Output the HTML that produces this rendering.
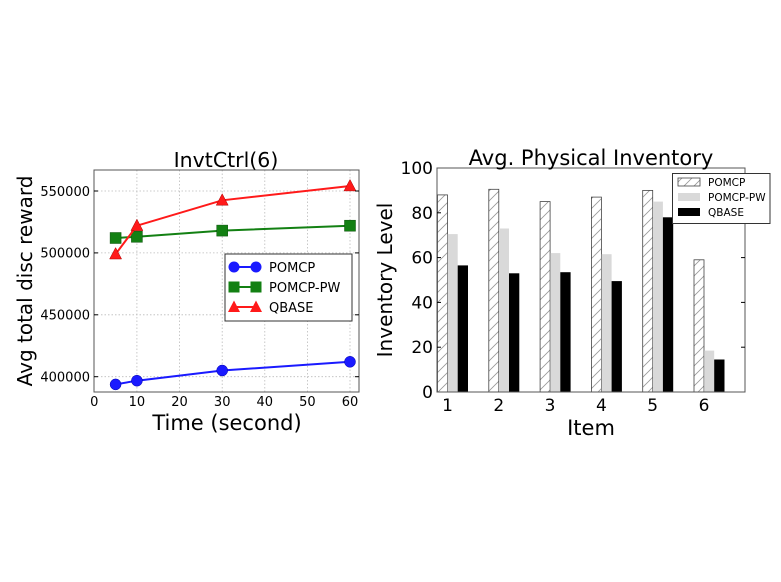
<!DOCTYPE html>
<html><head><style>body{margin:0;background:#fff}svg{display:block}text{font-family:"DejaVu Sans","Liberation Sans",sans-serif;fill:#000}</style></head>
<body>
<svg width="781" height="582" viewBox="0 0 781 582" xmlns="http://www.w3.org/2000/svg">
<defs>
<pattern id="h" width="10" height="10" patternUnits="userSpaceOnUse">
<path d="M-1,11 L11,-1 M-1,1 L1,-1 M9,11 L11,9" stroke="#999" stroke-width="0.8"/>
</pattern>
</defs>
<rect width="781" height="582" fill="#fff"/>
<!-- Left chart -->
<g stroke="#bbb" stroke-width="0.8" stroke-dasharray="1.5,2">
<line x1="136.9" y1="170" x2="136.9" y2="392"/><line x1="179.5" y1="170" x2="179.5" y2="392"/>
<line x1="222.2" y1="170" x2="222.2" y2="392"/><line x1="264.8" y1="170" x2="264.8" y2="392"/>
<line x1="307.4" y1="170" x2="307.4" y2="392"/><line x1="350" y1="170" x2="350" y2="392"/>
<line x1="94" y1="376.7" x2="359" y2="376.7"/><line x1="94" y1="314.8" x2="359" y2="314.8"/>
<line x1="94" y1="252.9" x2="359" y2="252.9"/><line x1="94" y1="191" x2="359" y2="191"/>
</g>
<rect x="94" y="170" width="265" height="222" fill="none" stroke="#555" stroke-width="1"/>
<polyline points="115.6,384.4 136.9,380.7 222.2,370.5 350,361.8" fill="none" stroke="#1a1aff" stroke-width="2"/>
<g fill="#1a1aff" stroke="#0000aa" stroke-width="0.5"><circle cx="115.6" cy="384.4" r="5.5"/><circle cx="136.9" cy="380.7" r="5.5"/><circle cx="222.2" cy="370.5" r="5.5"/><circle cx="350" cy="361.8" r="5.5"/></g>
<polyline points="115.6,238 136.9,236.8 222.2,230.6 350,225.7" fill="none" stroke="#138013" stroke-width="2"/>
<g fill="#138013" stroke="#0a500a" stroke-width="0.5"><rect x="110.1" y="232.5" width="11" height="11"/><rect x="131.4" y="231.3" width="11" height="11"/><rect x="216.7" y="225.1" width="11" height="11"/><rect x="344.5" y="220.2" width="11" height="11"/></g>
<polyline points="115.6,254.1 136.9,225.7 222.2,200.3 350,186" fill="none" stroke="#ff1a1a" stroke-width="2"/>
<g fill="#ff1a1a" stroke="#aa0000" stroke-width="0.5">
<polygon points="115.6,247.6 121.6,259 109.6,259"/><polygon points="136.9,219.2 142.9,230.6 130.9,230.6"/><polygon points="222.2,193.8 228.2,205.2 216.2,205.2"/><polygon points="350,179.5 356,190.9 344,190.9"/></g>
<g stroke="#000" stroke-width="1">
<line x1="94" y1="376.7" x2="98" y2="376.7"/><line x1="94" y1="314.8" x2="98" y2="314.8"/><line x1="94" y1="252.9" x2="98" y2="252.9"/><line x1="94" y1="191" x2="98" y2="191"/>
<line x1="355" y1="376.7" x2="359" y2="376.7"/><line x1="355" y1="314.8" x2="359" y2="314.8"/><line x1="355" y1="252.9" x2="359" y2="252.9"/><line x1="355" y1="191" x2="359" y2="191"/>
</g>
<g font-size="13" text-anchor="end">
<text x="90" y="381.5">400000</text><text x="90" y="319.6">450000</text><text x="90" y="257.7">500000</text><text x="90" y="195.8">550000</text></g>
<g font-size="13" text-anchor="middle">
<text x="94.3" y="406">0</text><text x="136.9" y="406">10</text><text x="179.5" y="406">20</text><text x="222.2" y="406">30</text><text x="264.8" y="406">40</text><text x="307.4" y="406">50</text><text x="350" y="406">60</text></g>
<text x="227" y="430" font-size="21" text-anchor="middle">Time (second)</text>
<text x="226" y="167" font-size="20.5" text-anchor="middle">InvtCtrl(6)</text>
<text transform="translate(32,281) rotate(-90)" font-size="20" text-anchor="middle">Avg total disc reward</text>
<rect x="225" y="254" width="127" height="67" fill="#fff" stroke="#333" stroke-width="1"/>
<line x1="234" y1="267" x2="256" y2="267" stroke="#1a1aff" stroke-width="2"/><circle cx="234" cy="267" r="5.5" fill="#1a1aff"/><circle cx="256" cy="267" r="5.5" fill="#1a1aff"/>
<line x1="234" y1="287" x2="256" y2="287" stroke="#138013" stroke-width="2"/><rect x="228.5" y="281.5" width="11" height="11" fill="#138013"/><rect x="250.5" y="281.5" width="11" height="11" fill="#138013"/>
<line x1="234" y1="307" x2="256" y2="307" stroke="#ff1a1a" stroke-width="2"/><polygon points="234,300.5 240,312 228,312" fill="#ff1a1a"/><polygon points="256,300.5 262,312 250,312" fill="#ff1a1a"/>
<g font-size="13"><text x="269" y="272">POMCP</text><text x="269" y="292">POMCP-PW</text><text x="269" y="312">QBASE</text></g>

<!-- Right chart -->
<g id="bars">
<rect x="437.5" y="194.9" width="10" height="197.1" fill="url(#h)" stroke="#444" stroke-width="0.8"/>
<rect x="447.7" y="234.1" width="10" height="157.9" fill="#d9d9d9"/>
<rect x="457.7" y="265.4" width="10.3" height="126.6" fill="#000"/>
<rect x="488.8" y="189.3" width="10" height="202.7" fill="url(#h)" stroke="#444" stroke-width="0.8"/>
<rect x="499" y="228.5" width="10" height="163.5" fill="#d9d9d9"/>
<rect x="509" y="273.3" width="10.3" height="118.7" fill="#000"/>
<rect x="540.1" y="201.6" width="10" height="190.4" fill="url(#h)" stroke="#444" stroke-width="0.8"/>
<rect x="550.3" y="253.1" width="10" height="138.9" fill="#d9d9d9"/>
<rect x="560.3" y="272.2" width="10.3" height="119.8" fill="#000"/>
<rect x="591.4" y="197.1" width="10" height="194.9" fill="url(#h)" stroke="#444" stroke-width="0.8"/>
<rect x="601.6" y="254.2" width="10" height="137.8" fill="#d9d9d9"/>
<rect x="611.6" y="281.1" width="10.3" height="110.9" fill="#000"/>
<rect x="642.7" y="190.4" width="10" height="201.6" fill="url(#h)" stroke="#444" stroke-width="0.8"/>
<rect x="652.9" y="201.6" width="10" height="190.4" fill="#d9d9d9"/>
<rect x="662.9" y="217.3" width="10.3" height="174.7" fill="#000"/>
<rect x="694" y="259.8" width="10" height="132.2" fill="url(#h)" stroke="#444" stroke-width="0.8"/>
<rect x="704.2" y="350.6" width="10" height="41.4" fill="#d9d9d9"/>
<rect x="714.2" y="359.5" width="10.3" height="32.5" fill="#000"/>
</g>
<rect x="437" y="168" width="308" height="224" fill="none" stroke="#555" stroke-width="1"/>
<g stroke="#000" stroke-width="1">
<line x1="437" y1="347.2" x2="441" y2="347.2"/><line x1="437" y1="302.4" x2="441" y2="302.4"/><line x1="437" y1="257.6" x2="441" y2="257.6"/><line x1="437" y1="212.8" x2="441" y2="212.8"/>
<line x1="741" y1="347.2" x2="745" y2="347.2"/><line x1="741" y1="302.4" x2="745" y2="302.4"/><line x1="741" y1="257.6" x2="745" y2="257.6"/><line x1="741" y1="212.8" x2="745" y2="212.8"/>
</g>
<g font-size="17" text-anchor="end">
<text x="433" y="398">0</text><text x="433" y="353.2">20</text><text x="433" y="308.4">40</text><text x="433" y="263.6">60</text><text x="433" y="218.8">80</text><text x="433" y="174">100</text></g>
<g font-size="17" text-anchor="middle">
<text x="447.5" y="411">1</text><text x="498.8" y="411">2</text><text x="550.1" y="411">3</text><text x="601.4" y="411">4</text><text x="652.7" y="411">5</text><text x="704" y="411">6</text></g>
<text x="591" y="435" font-size="21" text-anchor="middle">Item</text>
<text x="591" y="165" font-size="21" text-anchor="middle">Avg. Physical Inventory</text>
<text transform="translate(392,280) rotate(-90)" font-size="20" text-anchor="middle">Inventory Level</text>
<rect x="672.5" y="173.5" width="97.5" height="50" fill="#fff" stroke="#333" stroke-width="1"/>
<rect x="678" y="178" width="22" height="8" fill="url(#h)" stroke="#444" stroke-width="0.8"/>
<rect x="678" y="193" width="22" height="8" fill="#d9d9d9"/>
<rect x="678" y="208" width="22" height="8" fill="#000"/>
<g font-size="10.5"><text x="708" y="186">POMCP</text><text x="708" y="201">POMCP-PW</text><text x="708" y="216">QBASE</text></g>
</svg>
</body></html>
